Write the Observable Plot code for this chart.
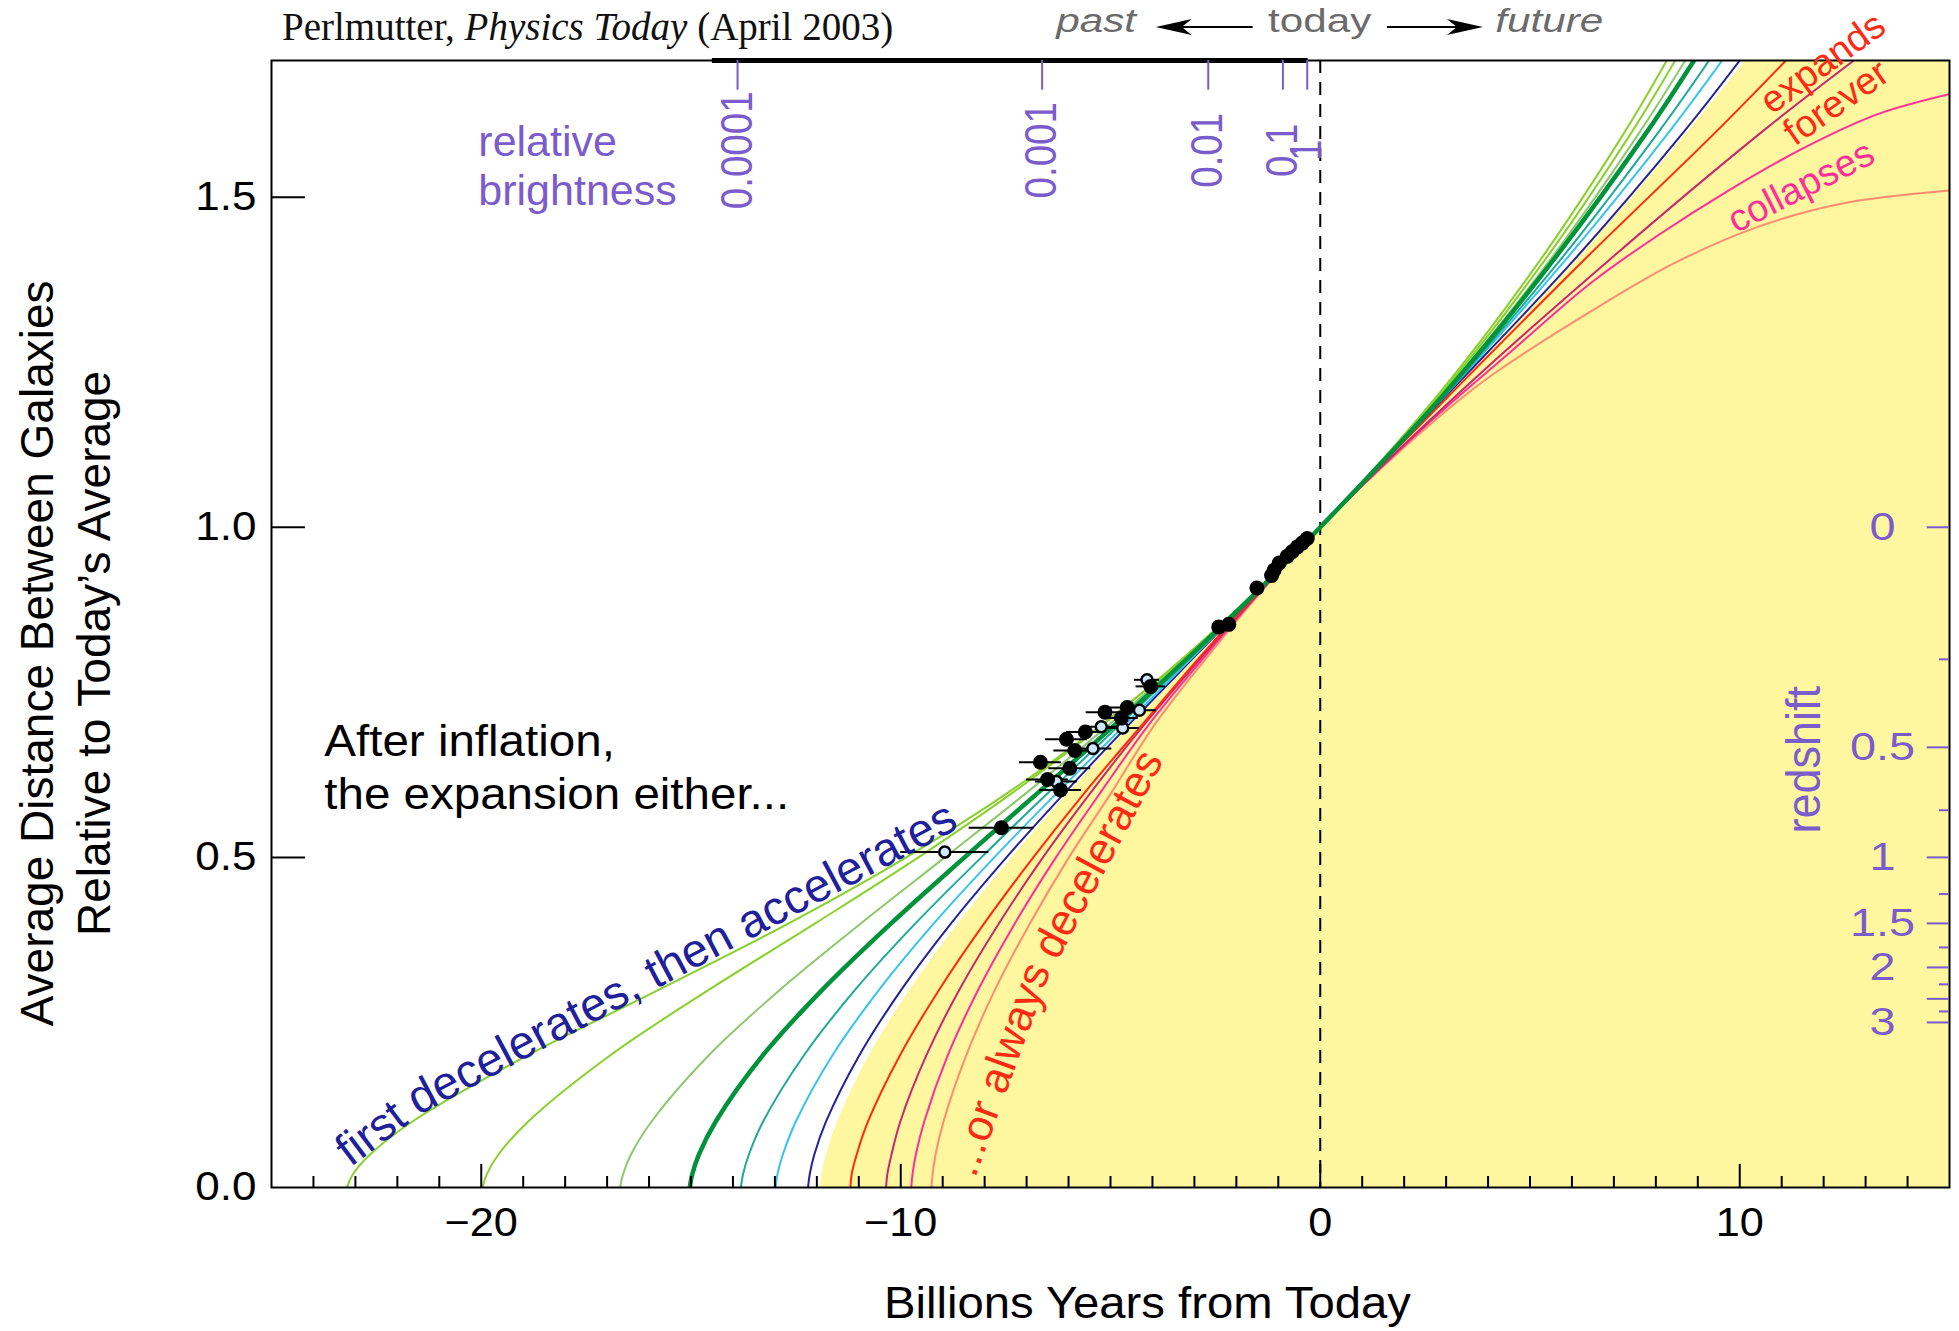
<!DOCTYPE html>
<html><head><meta charset="utf-8">
<script src="https://cdn.jsdelivr.net/npm/d3@7"></script>
<script src="https://cdn.jsdelivr.net/npm/@observablehq/plot@0.6"></script>
<style>
html,body{margin:0;padding:0;background:#fff;}
#chart svg{display:block;}
</style></head><body><div id="chart"></div>
<script>
// ---------------- data ----------------
const pastScale   = [0, 0.02, 0.05, 0.1, 0.2, 0.3, 0.4, 0.5, 0.6, 0.7, 0.8, 0.9, 1];
const futureScale = [1.2, 1.4, 1.6, 1.707];

const lime1Past   = [-23.2, -23.06, -22.65, -21.64, -18.90, -15.75, -12.67, -9.87, -7.40, -5.23, -3.29, -1.56, 0];
const lime1Future = [2.80, 5.19, 7.27, 8.26];
const lime2Past   = [-19.97, -19.87, -19.59, -18.88, -16.93, -14.56, -12.04, -9.58, -7.29, -5.20, -3.30, -1.58, 0];
const lime2Future = [2.85, 5.30, 7.44, 8.46];
const paleGreenPast   = [-16.69, -16.62, -16.43, -15.94, -14.58, -12.87, -10.95, -8.95, -6.96, -5.05, -3.25, -1.57, 0];
const paleGreenFuture = [2.89, 5.42, 7.63, 8.70];
const darkGreenPast   = [-15.03, -14.97, -14.81, -14.41, -13.29, -11.86, -10.23, -8.48, -6.69, -4.91, -3.19, -1.55, 0];
const darkGreenFuture = [2.93, 5.50, 7.80, 8.91];
const tealPast   = [-13.81, -13.76, -13.62, -13.28, -12.31, -11.08, -9.65, -8.08, -6.45, -4.79, -3.14, -1.54, 0];
const tealFuture = [2.96, 5.66, 8.08, 9.27];
const cyanPast   = [-12.98, -12.94, -12.81, -12.50, -11.63, -10.51, -9.21, -7.77, -6.24, -4.67, -3.09, -1.53, 0];
const cyanFuture = [2.98, 5.78, 8.33, 9.58];
const navyPast   = [-12.21, -12.17, -12.06, -11.78, -10.99, -9.98, -8.80, -7.48, -6.06, -4.58, -3.06, -1.52, 0];
const navyFuture = [3.01, 5.98, 8.68, 10.0];
const boundaryPast   = [-11.92, -11.88, -11.77, -11.50, -10.75, -9.77, -8.62, -7.34, -5.96, -4.51, -3.02, -1.51, 0];
const boundaryFuture = [3.04, 6.03, 8.78, 10.15];
const redPast   = [-11.2, -11.17, -11.05, -10.78, -10.02, -9.08, -8.01, -6.84, -5.59, -4.26, -2.92, -1.50, 0];
const redFuture = [3.08, 6.21, 9.45, 11.1];
const crimsonPast   = [-10.35, -10.32, -10.22, -10.01, -9.39, -8.60, -7.66, -6.61, -5.45, -4.21, -2.87, -1.47, 0];
const crimsonFuture = [3.25, 6.80, 10.55, 12.72];
const magentaPast = [-9.75, -9.72, -9.64, -9.44, -8.88, -8.15, -7.28, -6.30, -5.22, -4.10, -2.81, -1.46, 0];
const magentaFutureTime  = [2.48, 4.47, 6.45, 8.0, 9.73, 11.45, 13.26, 15];
const magentaFutureScale = [1.152, 1.262, 1.37, 1.44, 1.51, 1.572, 1.625, 1.656];
const salmonPast = [-9.27, -9.24, -9.17, -8.98, -8.44, -7.75, -6.92, -5.99, -4.96, -3.96, -2.74, -1.44, 0];
const salmonFutureTime  = [2.48, 3.97, 6.45, 8.44, 10.43, 12.42, 15];
const salmonFutureScale = [1.148, 1.225, 1.327, 1.40, 1.455, 1.49, 1.51];

// supernova data (filled = black, open = light)
const filledTime  = [-0.31, -0.43, -0.55, -0.67, -0.79, -0.98, -1.10, -1.16, -1.51, -2.18, -2.42, -4.04, -4.60, -4.74, -5.13, -5.60, -6.05, -5.85, -5.97, -6.67, -6.50, -6.19, -7.60];
const filledScale = [0.983, 0.976, 0.970, 0.963, 0.956, 0.946, 0.935, 0.927, 0.908, 0.853, 0.849, 0.759, 0.727, 0.711, 0.720, 0.690, 0.679, 0.662, 0.635, 0.644, 0.618, 0.602, 0.545];
const filledErr   = [0, 0, 0, 0, 0, 0, 0, 0, 0, 0.1, 0.1, 0.35, 0.4, 0.4, 0.45, 0.45, 0.5, 0.5, 0.5, 0.5, 0.5, 0.5, 0.77];
const openTime  = [-4.13, -4.31, -4.71, -5.22, -5.42, -6.29, -8.95];
const openScale = [0.769, 0.723, 0.696, 0.698, 0.665, 0.615, 0.508];
const openErr   = [0.3, 0.4, 0.4, 0.4, 0.45, 0.5, 1.05];

// axes
const xMajorTicks = [-20, -10, 0, 10];
const xTickLabels = ["\u221220", "\u221210", "0", "10"];
const yTicks = [0.5, 1.0, 1.5];
const yTickLabelValues = [0, 0.5, 1.0, 1.5];
const yTickLabels = ["0.0", "0.5", "1.0", "1.5"];
const redshiftMajor = [0, 0.5, 1, 1.5, 2, 2.5, 3];
const redshiftMinor = [0.25, 0.75, 1.25, 1.75, 2.25, 2.75];
const redshiftLabelValues = [0, 0.5, 1, 1.5, 2, 3];
const redshiftLabels = ["0", "0.5", "1", "1.5", "2", "3"];
const brightnessTime = [-13.89, -6.63, -2.67, -0.89, -0.31];
const brightnessLabels = ["0.0001", "0.001", "0.01", "0.1", "1"];

// ---------------- helpers ----------------
const rowsOf = (pastT, futT, futA = futureScale) => [
  ...pastT.map((t, i) => ({t, a: pastScale[i]})),
  ...futT.map((t, i) => ({t, a: futA[i]}))
];
const pts = (T, A, E) => T.map((t, i) => ({t, a: A[i], e: E[i]}));
const toA = z => 1 / (1 + z);

const purple = "#7b5ccc";
const red = "#ff2a14";
const pink = "#ff2e9a";
const navyText = "#20209a";
const TOP = 1.707;

const curves = [
  {rows: rowsOf(salmonPast, salmonFutureTime, salmonFutureScale), stroke: "#ff8c6e", w: 2},
  {rows: rowsOf(magentaPast, magentaFutureTime, magentaFutureScale), stroke: "#ff2e9a", w: 2},
  {rows: rowsOf(crimsonPast, crimsonFuture), stroke: "#c8286e", w: 2},
  {rows: rowsOf(redPast, redFuture), stroke: "#ff2a10", w: 2},
  {rows: rowsOf(navyPast, navyFuture), stroke: "#22229a", w: 2},
  {rows: rowsOf(cyanPast, cyanFuture), stroke: "#35c3ef", w: 2},
  {rows: rowsOf(tealPast, tealFuture), stroke: "#1fa99b", w: 2},
  {rows: rowsOf(paleGreenPast, paleGreenFuture), stroke: "#8cc96b", w: 2},
  {rows: rowsOf(lime2Past, lime2Future), stroke: "#88d12b", w: 2},
  {rows: rowsOf(lime1Past, lime1Future), stroke: "#88d12b", w: 2},
  {rows: rowsOf(darkGreenPast, darkGreenFuture), stroke: "#00933b", w: 4.5}
];

const filled = pts(filledTime, filledScale, filledErr);
const open = pts(openTime, openScale, openErr);

const chart = Plot.plot({
  width: 1959, height: 1331,
  marginLeft: 271, marginRight: 10, marginTop: 60, marginBottom: 144,
  x: {domain: [-25, 15], axis: null},
  y: {domain: [0, TOP], axis: null},
  style: {fontFamily: "'Liberation Sans', Arial, Helvetica, sans-serif", overflow: "visible", background: "white"},
  marks: [
    Plot.areaX(rowsOf(boundaryPast, boundaryFuture), {y: "a", x1: "t", x2: () => 15, fill: "#fff6a0", curve: "catmull-rom"}),
    Plot.ruleX([0], {stroke: "black", strokeWidth: 2, strokeDasharray: "13,9"}),
    ...curves.map(c => Plot.line(c.rows, {x: "t", y: "a", stroke: c.stroke, strokeWidth: c.w, curve: "catmull-rom", clip: true})),
    // error bars and points
    Plot.ruleY([...filled, ...open].filter(d => d.e > 0), {y: "a", x1: d => d.t - d.e, x2: d => d.t + d.e, stroke: "black", strokeWidth: 2}),
    Plot.dot(open, {x: "t", y: "a", r: 5.5, fill: "#cfe6ff", stroke: "black", strokeWidth: 2.5}),
    Plot.dot(filled, {x: "t", y: "a", r: 7.5, fill: "black"}),
    // frame & ticks
    Plot.frame({stroke: "black", strokeWidth: 2}),
    Plot.ruleY([TOP], {x1: -14.49, x2: -0.29, stroke: "black", strokeWidth: 5}),
    Plot.ruleX(d3.range(-24, 15).filter(v => !xMajorTicks.includes(v)), {x: d => d, y1: 0, y2: 0.0167, stroke: "black", strokeWidth: 2}),
    Plot.ruleX(xMajorTicks, {x: d => d, y1: 0, y2: 0.035, stroke: "black", strokeWidth: 2}),
    Plot.ruleY(yTicks, {y: d => d, x1: -25, x2: -24.19, stroke: "black", strokeWidth: 2}),
    Plot.ruleY(redshiftMajor, {y: toA, x1: 14.47, x2: 15, stroke: purple, strokeWidth: 2}),
    Plot.ruleY(redshiftMinor, {y: toA, x1: 14.76, x2: 15, stroke: purple, strokeWidth: 2}),
    Plot.ruleX(brightnessTime, {x: d => d, y1: TOP, y2: TOP - 0.045, stroke: purple, strokeWidth: 2}),
    // tick labels
    Plot.text(xMajorTicks, {ariaDescription: "xlabels", x: d => d, text: (d, i) => xTickLabels[i], frameAnchor: "bottom", lineAnchor: "middle", textAnchor: "middle", dy: 36, fontSize: 40, fill: "black"}),
    Plot.text(yTickLabelValues, {ariaDescription: "ylabels", y: d => d, text: (d, i) => yTickLabels[i], frameAnchor: "left", dx: -15, textAnchor: "end", lineAnchor: "middle", fontSize: 40, fill: "black"}),
    Plot.text(redshiftLabelValues, {ariaDescription: "zlabels", y: toA, text: (d, i) => redshiftLabels[i], frameAnchor: "right", dx: -67, textAnchor: "middle", lineAnchor: "middle", fontSize: 39, fill: purple}),
    Plot.text(["redshift"], {ariaDescription: "ztitle", y: () => 0.648, text: d => d, frameAnchor: "right", dx: -145, textAnchor: "middle", lineAnchor: "middle", rotate: -90, fontSize: 45, fill: purple}),
    Plot.text(brightnessTime, {ariaDescription: "blabels", x: d => d, y: () => 1.571, text: (d, i) => brightnessLabels[i], textAnchor: "middle", lineAnchor: "middle", rotate: -90, fontSize: 38.5, fill: purple}),
    Plot.text(["relative\nbrightness"], {x: () => -20.07, y: () => 1.549, text: d => d, textAnchor: "start", lineAnchor: "middle", lineHeight: 1.14, fontSize: 43, fill: purple}),
    // axis titles
    Plot.text(["Billions Years from Today"], {ariaDescription: "xtitle", x: () => -4.12, text: d => d, frameAnchor: "bottom", lineAnchor: "middle", textAnchor: "middle", dy: 116, fontSize: 45, fill: "black"}),
    Plot.text(["Average Distance Between Galaxies\nRelative to Today\u2019s Average"], {y: () => 0.809, text: d => d, frameAnchor: "left", textAnchor: "middle", lineAnchor: "middle", dx: -208, rotate: -90, lineHeight: 1.22, fontSize: 46, fill: "black"}),
    // annotations
    Plot.text(["After inflation,\nthe expansion either..."], {ariaDescription: "after", x: () => -23.74, y: () => 0.639, text: d => d, textAnchor: "start", lineAnchor: "middle", lineHeight: 1.216, fontSize: 44, fill: "black"}),
    Plot.text(["first"], {x: () => -22.62, y: () => 0.082, text: d => d, rotate: -37, fontSize: 46, fill: navyText}),
    Plot.text(["decelerates, then accelerates"], {x: () => -15.22, y: () => 0.347, text: d => d, rotate: -28, fontSize: 47, fill: navyText}),
    Plot.text(["...or always"], {x: () => -7.64, y: () => 0.179, text: d => d, rotate: -70, fontSize: 44, fill: red}),
    Plot.text(["decelerates"], {x: () => -5.29, y: () => 0.505, text: d => d, rotate: -62, fontSize: 44, fill: red}),
    Plot.text(["expands"], {x: () => 11.98, y: () => 1.703, text: d => d, rotate: -36, fontSize: 38, fill: red}),
    Plot.text(["forever"], {x: () => 12.3, y: () => 1.643, text: d => d, rotate: -35, fontSize: 38, fill: red}),
    Plot.text(["collapses"], {x: () => 11.46, y: () => 1.516, text: d => d, rotate: -27, fontSize: 38, fill: pink})
  ]
});

document.getElementById("chart").appendChild(chart);

// horizontal stretching of some texts (as in the original artwork)
function stretch(label, sx, sy) {
  d3.select(chart).selectAll(`g[aria-description="${label}"] text`).each(function() {
    const t = this.getAttribute("transform") || "";
    this.setAttribute("transform", `${t} scale(${sx},${sy})`);
  });
}
stretch("xlabels", 1.08, 1);
stretch("ylabels", 1.1, 1);
stretch("zlabels", 1.2, 1);
stretch("ztitle", 1, 1.05);
stretch("blabels", 1, 1.15);
stretch("xtitle", 1.05, 1);
stretch("after", 1.08, 1);

// header: source and time direction
const X = chart.scale("x");
const svg = d3.select(chart);
const head = svg.append("g").attr("text-anchor", "start");
const src = head.append("text")
  .attr("x", 282).attr("y", 40)
  .attr("text-anchor", "start")
  .attr("font-family", "'Liberation Serif', 'Times New Roman', serif")
  .attr("font-size", 39).attr("fill", "#111");
src.append("tspan").text("Perlmutter, ");
src.append("tspan").attr("font-style", "italic").text("Physics Today");
src.append("tspan").text(" (April 2003)");

const dirWords = [
  {text: "past", t: -5.33, italic: true},
  {text: "today", t: 0, italic: false},
  {text: "future", t: 5.47, italic: true}
];
for (const w of dirWords) {
  head.append("text")
    .attr("transform", `translate(${X.apply(w.t)},32) scale(1.28,1)`)
    .attr("text-anchor", "middle")
    .attr("font-size", 33)
    .attr("font-style", w.italic ? "italic" : "normal")
    .attr("fill", "#6b6b6b")
    .text(w.text);
}
const arrows = [{from: -1.6, to: -3.91}, {from: 1.6, to: 3.89}];
for (const a of arrows) {
  const x0 = X.apply(a.from), x1 = X.apply(a.to), s = Math.sign(x1 - x0), y = 27;
  head.append("line").attr("x1", x0).attr("x2", x1 - s * 20).attr("y1", y).attr("y2", y)
    .attr("stroke", "black").attr("stroke-width", 2);
  head.append("path")
    .attr("d", `M${x1},${y} L${x1 - s * 36},${y - 8} L${x1 - s * 26},${y} L${x1 - s * 36},${y + 8} Z`)
    .attr("fill", "black");
}
</script>
</body></html>
